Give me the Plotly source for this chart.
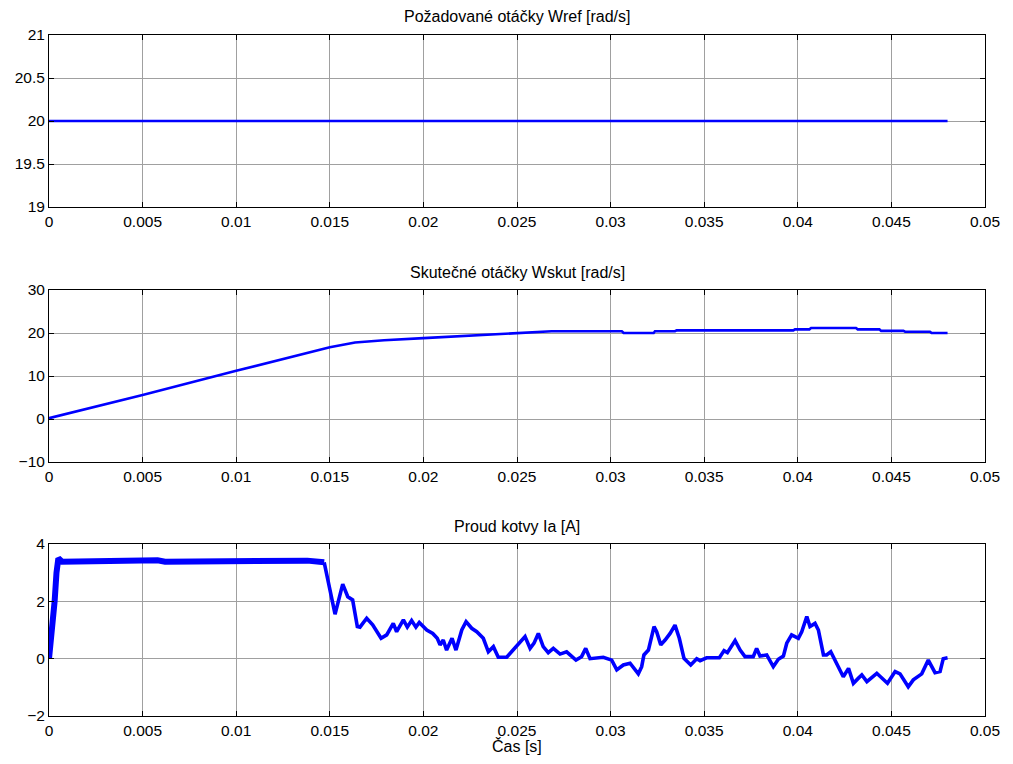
import plotly.graph_objects as go

# --- data ---------------------------------------------------------------
t_ref = [0.0, 0.048]
w_ref = [20.0, 20.0]

t_skut = [0.0, 0.005, 0.01, 0.015, 0.01635, 0.0179, 0.02, 0.0223, 0.0241, 0.025,
          0.02685, 0.0306, 0.0307, 0.0323, 0.03237, 0.03344, 0.03353, 0.03976,
          0.03985, 0.04062, 0.04071, 0.04311, 0.0432, 0.04436, 0.04445, 0.04564,
          0.04573, 0.04706, 0.04715, 0.048]
w_skut = [0.2, 5.6, 11.2, 16.7, 17.8, 18.3, 18.8, 19.3, 19.7, 20.05,
          20.4, 20.4, 20.0, 20.0, 20.4, 20.4, 20.6, 20.6,
          20.85, 20.85, 21.15, 21.15, 20.85, 20.85, 20.5, 20.5,
          20.3, 20.3, 20.0, 20.0]

# armature current: start-up plateau (rippled band) and the regulated part
t_ia_start = [0.0, 0.0002, 0.0003, 0.0004, 0.0005, 0.0007, 0.002, 0.004, 0.005,
              0.0058, 0.0062, 0.008, 0.01, 0.012, 0.0138, 0.0147]
i_a_start = [0.0, 1.2, 2.0, 3.0, 3.5, 3.38, 3.4, 3.38, 3.43,
             3.43, 3.38, 3.38, 3.4, 3.4, 3.42, 3.36]

t_ia = [0.0147, 0.01528, 0.01569, 0.01596,
        0.01622, 0.01647, 0.01661, 0.01697, 0.01729, 0.01774, 0.01804, 0.01839,
        0.01857, 0.01893, 0.01914, 0.01937, 0.0196, 0.01978, 0.02018, 0.0205,
        0.02074, 0.02089, 0.02106, 0.02124, 0.02153, 0.02174, 0.02205, 0.02228,
        0.02258, 0.02285, 0.0232, 0.02347, 0.02374, 0.024, 0.02445, 0.02472,
        0.02516, 0.02543, 0.0257, 0.02591, 0.02614, 0.0264, 0.02667, 0.02694,
        0.0273, 0.02765, 0.02815, 0.02845, 0.02867, 0.0289, 0.02961, 0.03006,
        0.03033, 0.03068, 0.03104, 0.03148, 0.03166, 0.03178, 0.03202, 0.0322,
        0.03232, 0.03246, 0.03268, 0.03291, 0.03318, 0.03344, 0.03367, 0.03392,
        0.03428, 0.0346, 0.03478, 0.03513, 0.03581, 0.03606, 0.03624, 0.03665,
        0.03692, 0.03718, 0.03762, 0.0378, 0.03798, 0.03834, 0.03869, 0.03896,
        0.03923, 0.03941, 0.03967, 0.04003, 0.04021, 0.04048, 0.04065, 0.04092,
        0.0411, 0.04137, 0.04154, 0.04176, 0.04199, 0.04222, 0.04243, 0.04271,
        0.04297, 0.04324, 0.04342, 0.04369, 0.04422, 0.04479, 0.0452, 0.04546,
        0.0459, 0.04617, 0.04662, 0.04697, 0.04733, 0.0476, 0.04777, 0.048]
i_a = [3.36, 1.55, 2.6, 2.16,
       2.05, 1.12, 1.1, 1.41, 1.18, 0.71, 0.83, 1.23,
       0.94, 1.35, 1.1, 1.33, 1.1, 1.26, 1.0, 0.88,
       0.71, 0.48, 0.65, 0.3, 0.71, 0.3, 1.0, 1.29,
       1.06, 0.94, 0.71, 0.24, 0.42, 0.05, 0.05, 0.24,
       0.54, 0.77, 0.36, 0.54, 0.88, 0.42, 0.21, 0.36,
       0.16, 0.24, -0.05, 0.07, 0.36, 0.0, 0.05, -0.05,
       -0.39, -0.22, -0.16, -0.53, -0.28, 0.13, 0.3, 0.88,
       1.12, 0.94, 0.48, 0.65, 0.88, 1.17, 0.71, 0.01,
       -0.22, 0.0, -0.07, 0.03, 0.03, 0.28, 0.21, 0.63,
       0.3, 0.07, 0.07, 0.36, 0.09, 0.13, -0.28, -0.02,
       0.09, 0.54, 0.83, 0.71, 0.94, 1.47, 1.12, 1.23,
       1.0, 0.13, 0.13, 0.24, -0.05, -0.34, -0.63, -0.34,
       -0.86, -0.68, -0.57, -0.8, -0.51, -0.86, -0.45, -0.53,
       -0.98, -0.74, -0.53, -0.05, -0.49, -0.45, 0.0, 0.03]

x_ticks = [0, 0.005, 0.01, 0.015, 0.02, 0.025, 0.03, 0.035, 0.04, 0.045, 0.05]
x_tick_text = ["0", "0.005", "0.01", "0.015", "0.02", "0.025", "0.03", "0.035",
               "0.04", "0.045", "0.05"]

titles = ["Požadované otáčky Wref [rad/s]",
          "Skutečné otáčky Wskut [rad/s]",
          "Proud kotvy Ia [A]"]

# --- figure ---------------------------------------------------------------
W, H = 1013, 756
FONT = "Liberation Sans, Arial, sans-serif"
BLUE = "#0000ff"
GRID = "#a0a0a0"


def px_x(p):
    return p / W


def px_y(p):
    return 1 - p / H


fig = go.Figure()
fig.add_trace(go.Scatter(x=t_ref, y=w_ref, mode="lines",
                         line=dict(color=BLUE, width=2.6), xaxis="x", yaxis="y"))
fig.add_trace(go.Scatter(x=t_skut, y=w_skut, mode="lines",
                         line=dict(color=BLUE, width=2.6), xaxis="x2", yaxis="y2"))
fig.add_trace(go.Scatter(x=t_ia_start, y=i_a_start, mode="lines",
                         line=dict(color=BLUE, width=6), xaxis="x3", yaxis="y3"))
fig.add_trace(go.Scatter(x=t_ia, y=i_a, mode="lines",
                         line=dict(color=BLUE, width=3.6), xaxis="x3", yaxis="y3"))

x_dom = [px_x(49), px_x(985)]
panels = [  # (top px, bottom px, y range, y ticks)
    (35, 207, [19, 21], [19, 19.5, 20, 20.5, 21]),
    (290, 462, [-10, 30], [-10, 0, 10, 20, 30]),
    (544, 716, [-2, 4], [-2, 0, 2, 4]),
]

common_axis = dict(showline=True, linecolor="black", linewidth=1, mirror="ticks",
                   ticks="inside", ticklen=5, tickcolor="black", tickwidth=1,
                   showgrid=True, gridcolor=GRID, gridwidth=1, zeroline=False,
                   automargin=False,
                   tickfont=dict(family=FONT, size=15.5, color="black"))

layout = dict(width=W, height=H, margin=dict(l=0, r=0, t=0, b=0),
              paper_bgcolor="white", plot_bgcolor="white", showlegend=False,
              font=dict(family=FONT, size=15.5, color="black"))

annotations = []
for k, (top, bot, yr, yt) in enumerate(panels, start=1):
    sfx = "" if k == 1 else str(k)
    layout["xaxis" + sfx] = dict(common_axis, domain=x_dom, range=[0, 0.05],
                                 tickvals=x_ticks, ticktext=x_tick_text,
                                 anchor="y" + sfx)
    layout["yaxis" + sfx] = dict(common_axis, domain=[px_y(bot), px_y(top)],
                                 range=yr, tickvals=yt, anchor="x" + sfx)
    annotations.append(dict(text=titles[k - 1], xref="paper", yref="paper",
                            x=(x_dom[0] + x_dom[1]) / 2, y=px_y(top - 18),
                            xanchor="center", yanchor="middle", showarrow=False,
                            font=dict(family=FONT, size=16, color="black")))

annotations.append(dict(text="Čas [s]", xref="paper", yref="paper",
                        x=(x_dom[0] + x_dom[1]) / 2, y=px_y(746),
                        xanchor="center", yanchor="middle", showarrow=False,
                        font=dict(family=FONT, size=16, color="black")))
layout["annotations"] = annotations

fig.update_layout(**layout)
fig.write_html("out.html")
